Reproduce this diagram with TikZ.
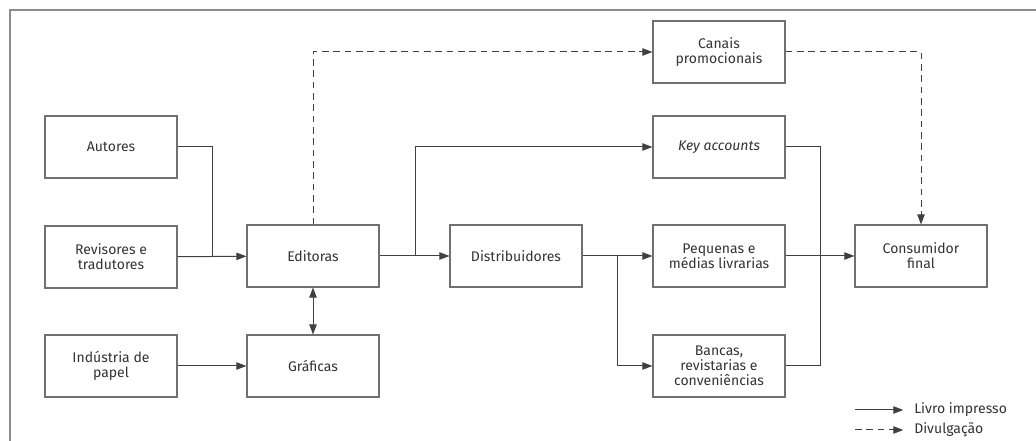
\documentclass[tikz,border=0pt]{standalone}
\usepackage{fontspec}
\setmainfont{Fira Sans}
\usetikzlibrary{arrows.meta}
\definecolor{boxgray}{HTML}{707070}
\definecolor{linegray}{HTML}{404040}
\definecolor{textgray}{HTML}{333333}
\definecolor{framegray}{HTML}{8C8C8C}
\begin{document}
\begin{tikzpicture}[x=0.75pt,y=-0.75pt,
  box/.style={draw=boxgray, line width=0.8pt, minimum width=99pt, minimum height=46.5pt,
    align=center, inner sep=2pt, text=textgray, font=\fontsize{10.5}{11.2}\selectfont},
  flow/.style={-{Triangle[length=7.5pt,width=5.5pt]}, draw=linegray, line width=0.75pt},
  plain/.style={draw=linegray, line width=0.75pt},
  promo/.style={flow, dash pattern=on 5pt off 3.5pt},
  legtext/.style={anchor=west, inner sep=0pt, text=textgray, font=\fontsize{10.5}{11.2}\selectfont}]
\useasboundingbox (0,0) rectangle (1036,441);
% frame
\draw[framegray, line width=1.4pt] (10,450) -- (10,10) -- (1045,10);
\node[anchor=base west, inner sep=0pt, text=textgray, font=\bfseries\fontsize{20}{20}\selectfont] (fig) at (26,-8) {g};
% boxes
\node[box] (aut) at (111,147) {Autores};
\node[box] (rev) at (111,257) {Revisores e\\tradutores};
\node[box] (ind) at (111,366) {Indústria de\\papel};
\node[box] (edi) at (313,256) {Editoras};
\node[box] (gra) at (313,366) {Gráficas};
\node[box] (dis) at (516,256) {Distribuidores};
\node[box] (can) at (719,52) {Canais\\promocionais};
\node[box] (key) at (719,147) {\itshape Key accounts};
\node[box] (peq) at (719,256) {Pequenas e\\médias livrarias};
\node[box] (ban) at (719,366) {Bancas,\\revistarias e\\conveniências};
\node[box] (con) at (921,256) {Consumidor\\final};
% junctions
\coordinate (j1) at (212,257);
\coordinate (j2) at (415,256);
\coordinate (j3) at (617,256);
\coordinate (j4) at (820,366);
% livro impresso
\draw[plain] (aut.east) -| (j1);
\draw[flow] (rev) -- (edi);
\draw[flow, {Triangle[length=7.5pt,width=5.5pt]}-{Triangle[length=7.5pt,width=5.5pt]}] (edi) -- (gra);
\draw[flow] (ind) -- (gra);
\draw[flow] (edi) -- (dis);
\draw[flow] (j2) |- (key.west);
\draw[flow] (dis) -- (peq);
\draw[flow] (j3) |- (ban.west);
\draw[plain] (key.east) -| (j4) -- (ban.east);
\draw[flow] (peq) -- (con);
% divulgacao
\draw[promo] (edi.north) |- (can.west);
\draw[promo] (can.east) -| (con.north);
% legenda
\node[legtext] (leg1) at (914,410) {Livro impresso};
\node[legtext] (leg2) at (914,430) {Divulgação};
\coordinate (leg1s) at (855,410);
\coordinate (leg2s) at (855,430);
\draw[flow, shorten >=8pt] (leg1s) -- (leg1.west);
\draw[promo, shorten >=8pt] (leg2s) -- (leg2.west);
\end{tikzpicture}
\end{document}
